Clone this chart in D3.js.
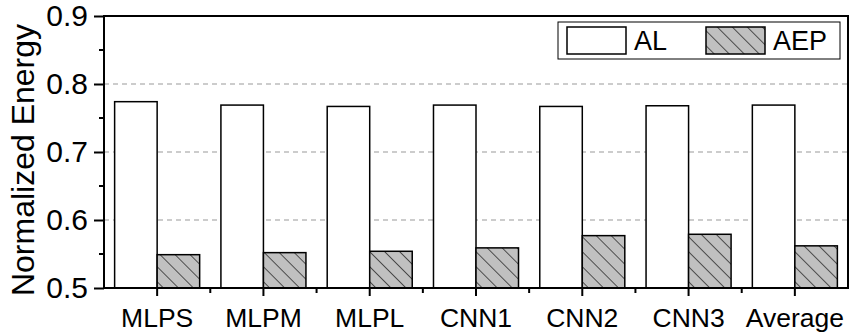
<!DOCTYPE html>
<html>
<head>
<meta charset="utf-8">
<script src="https://cdn.jsdelivr.net/npm/d3@7"></script>
<style>
  body { margin: 0; background: #fff; }
  svg { display: block; font-family: "Liberation Sans", Arial, sans-serif; }
</style>
</head>
<body>
<svg id="chart"></svg>
<script>
// data
const categories = ['MLPS', 'MLPM', 'MLPL', 'CNN1', 'CNN2', 'CNN3', 'Average']
const seriesNames = ['AL', 'AEP']
const alValues = [0.774, 0.769, 0.767, 0.769, 0.767, 0.768, 0.769]
const aepValues = [0.549, 0.552, 0.554, 0.559, 0.577, 0.579, 0.562]
const yTicks = [0.5, 0.6, 0.7, 0.8, 0.9]
const yMinorTicks = [0.55, 0.65, 0.75, 0.85]
const gridValues = [0.6, 0.7, 0.8]

const w = 850, h = 335
const margin = {top: 16, right: 2, bottom: 47, left: 104}
const font = '"Liberation Sans", Arial, sans-serif'

const svg = d3.select('#chart').attr('width', w).attr('height', h)

// hatch pattern for AEP (lines going down to the right)
const defs = svg.append('defs')
const pat = defs.append('pattern')
  .attr('id', 'hatch')
  .attr('patternUnits', 'userSpaceOnUse')
  .attr('width', 10.6).attr('height', 10.6)
  .attr('patternTransform', 'rotate(-45)')
pat.append('rect').attr('width', 10.6).attr('height', 10.6).attr('fill', '#c0c0c0')
pat.append('line').attr('x1', 0).attr('y1', 0).attr('x2', 0).attr('y2', 10.6)
  .attr('stroke', '#000').attr('stroke-width', 1.2)

const x0 = d3.scaleBand()
  .domain(categories)
  .range([margin.left, w - margin.right])
  .paddingInner(0.2).paddingOuter(0.1)

const xAll = d3.scaleBand()
  .domain(categories)
  .range([margin.left, w - margin.right])

const x1 = d3.scaleBand()
  .domain(seriesNames)
  .range([0, x0.bandwidth()])

const y = d3.scaleLinear()
  .domain([0.5, 0.9])
  .range([h - margin.bottom, margin.top])

// grid
svg.append('g').selectAll('line')
  .data(gridValues)
  .enter().append('line')
  .attr('x1', margin.left).attr('x2', w - margin.right)
  .attr('y1', d => y(d)).attr('y2', d => y(d))
  .attr('stroke', '#999').attr('stroke-width', 1)
  .attr('stroke-dasharray', '5,4')

// bars
const rows = categories.map((c, i) => ({cat: c, AL: alValues[i], AEP: aepValues[i]}))
const groups = svg.append('g').selectAll('g')
  .data(rows)
  .enter().append('g')
  .attr('transform', d => 'translate(' + (xAll(d.cat) + xAll.bandwidth() / 2 - x0.bandwidth() / 2) + ',0)')

groups.selectAll('rect')
  .data(d => seriesNames.map(s => ({key: s, value: d[s]})))
  .enter().append('rect')
  .attr('x', d => x1(d.key))
  .attr('width', x1.bandwidth())
  .attr('y', d => y(d.value))
  .attr('height', d => y(0.5) - y(d.value))
  .attr('fill', d => d.key === 'AL' ? '#fff' : 'url(#hatch)')
  .attr('stroke', '#000').attr('stroke-width', 1.5)

// axes
const xAxis = d3.axisBottom(xAll).tickSize(8).tickSizeOuter(0).tickPadding(12)
const gx = svg.append('g')
  .attr('transform', 'translate(0,' + (h - margin.bottom) + ')')
  .call(xAxis)
gx.attr('font-size', null).attr('font-family', null)
gx.select('.domain').remove()
gx.selectAll('.tick line').attr('stroke', '#000').attr('stroke-width', 2)
gx.selectAll('.tick text').style('font-size', '26.5px').attr('fill', '#000')
  .style('font-family', font)

// minor x ticks at category boundaries
svg.append('g').selectAll('line')
  .data(categories.slice(1))
  .enter().append('line')
  .attr('x1', d => xAll(d)).attr('x2', d => xAll(d))
  .attr('y1', h - margin.bottom).attr('y2', h - margin.bottom + 5)
  .attr('stroke', '#000').attr('stroke-width', 2)

const yAxis = d3.axisLeft(y).tickValues(yTicks).tickFormat(d3.format('.1f'))
  .tickSize(10).tickSizeOuter(0).tickPadding(6)
const gy = svg.append('g')
  .attr('transform', 'translate(' + margin.left + ',0)')
  .call(yAxis)
gy.attr('font-size', null).attr('font-family', null)
gy.select('.domain').remove()
gy.selectAll('.tick line').attr('stroke', '#000').attr('stroke-width', 2)
gy.selectAll('.tick text').style('font-size', '30px').attr('fill', '#000')
  .style('font-family', font)

svg.append('g').selectAll('line')
  .data(yMinorTicks)
  .enter().append('line')
  .attr('x1', margin.left - 5).attr('x2', margin.left)
  .attr('y1', d => y(d)).attr('y2', d => y(d))
  .attr('stroke', '#000').attr('stroke-width', 2)

// frame
svg.append('rect')
  .attr('x', margin.left).attr('y', margin.top)
  .attr('width', w - margin.right - margin.left)
  .attr('height', h - margin.bottom - margin.top)
  .attr('fill', 'none').attr('stroke', '#000').attr('stroke-width', 2)

// y title
svg.append('text')
  .attr('transform', 'translate(34,160) rotate(-90)')
  .attr('text-anchor', 'middle')
  .style('font-size', '32px')
  .style('font-family', font)
  .text('Normalized Energy')

// legend
const leg = svg.append('g')
leg.append('rect')
  .attr('x', 558).attr('y', 22).attr('width', 282).attr('height', 37)
  .attr('fill', '#fff').attr('stroke', '#000').attr('stroke-width', 1)
const legX = [567, 706]
seriesNames.forEach((s, i) => {
  leg.append('rect')
    .attr('x', legX[i]).attr('y', 27).attr('width', 59).attr('height', 27)
    .attr('fill', s === 'AL' ? '#fff' : 'url(#hatch)')
    .attr('stroke', '#000').attr('stroke-width', 1.5)
  leg.append('text')
    .attr('x', legX[i] + 67).attr('y', 50)
    .style('font-size', '27px')
    .style('font-family', font)
    .text(s)
})
</script>
</body>
</html>
